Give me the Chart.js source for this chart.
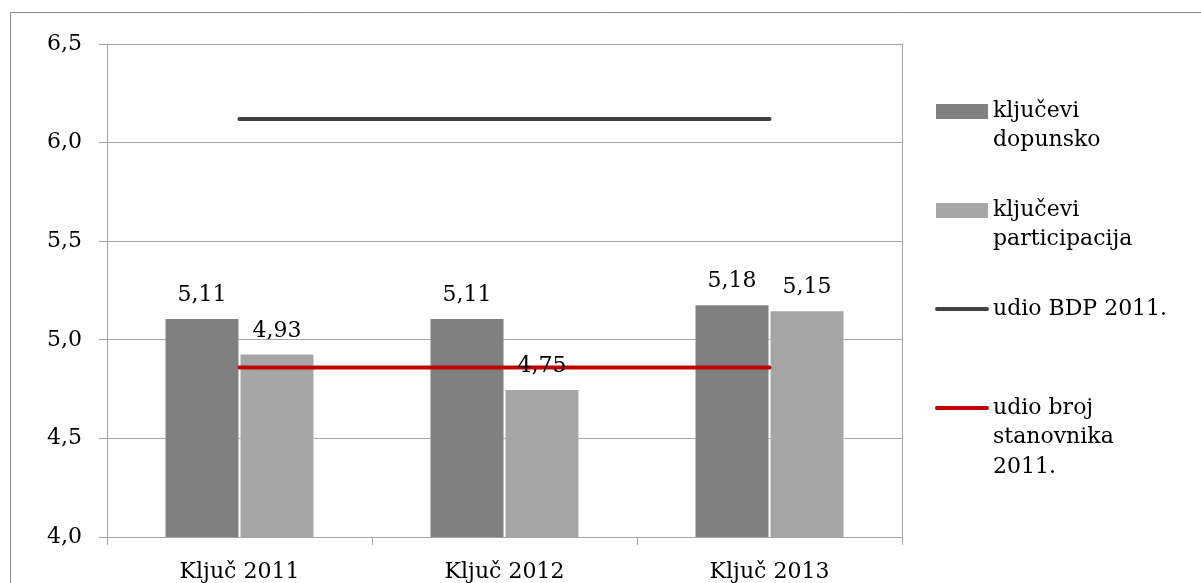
<!DOCTYPE html>
<html>
<head>
<meta charset="utf-8">
<script src="https://cdn.jsdelivr.net/npm/chart.js@4"></script>
<style>
  html, body { margin: 0; padding: 0; background: #fff; }
  #wrap { position: relative; width: 1201px; height: 583px; }
</style>
</head>
<body>
<div id="wrap"><canvas id="chart" width="1201" height="583"></canvas></div>
<script>
const categories = ['Ključ 2011', 'Ključ 2012', 'Ključ 2013'];
const dopunsko = [5.11, 5.11, 5.18];
const participacija = [4.93, 4.75, 5.15];
const udioBdp = [6.12, 6.12, 6.12];
const udioStanovnika = [4.86, 4.86, 4.86];
const yTicks = [4.0, 4.5, 5.0, 5.5, 6.0, 6.5];
const legendText = [
  ['ključevi', 'dopunsko'],
  ['ključevi', 'participacija'],
  ['udio BDP 2011.'],
  ['udio broj', 'stanovnika', '2011.']
];

const FONT = "'DejaVu Serif', serif";
Chart.defaults.font.family = FONT;
Chart.defaults.font.size = 22;
Chart.defaults.color = '#000';

function comma(v, d) {
  return v.toFixed(d).replace('.', ',');
}

// white page + the cut-off frame of the embedded chart
const framePlugin = {
  id: 'frame',
  beforeDraw(chart) {
    const ctx = chart.ctx;
    ctx.save();
    ctx.fillStyle = '#fff';
    ctx.fillRect(0, 0, chart.width, chart.height);
    ctx.strokeStyle = '#8c8c8c';
    ctx.lineWidth = 1;
    ctx.beginPath();
    ctx.moveTo(10.5, chart.height);
    ctx.lineTo(10.5, 12.5);
    ctx.lineTo(chart.width, 12.5);
    ctx.stroke();
    ctx.restore();
  },
  afterDraw(chart) {
    // right border of the plot area
    const a = chart.chartArea;
    const ctx = chart.ctx;
    const x = Math.round(a.right) + 0.5;
    ctx.save();
    ctx.strokeStyle = '#a6a6a6';
    ctx.lineWidth = 1;
    ctx.beginPath();
    ctx.moveTo(x, a.top);
    ctx.lineTo(x, a.bottom + 8);
    ctx.stroke();
    ctx.restore();
  }
};

const barLabels = {
  id: 'barLabels',
  afterDatasetsDraw(chart) {
    const ctx = chart.ctx;
    ctx.save();
    ctx.font = '22px ' + FONT;
    ctx.fillStyle = '#000';
    ctx.textAlign = 'center';
    ctx.textBaseline = 'alphabetic';
    [0, 1].forEach(i => {
      const meta = chart.getDatasetMeta(i);
      const vals = chart.data.datasets[i].data;
      meta.data.forEach((bar, j) => {
        ctx.fillText(comma(vals[j], 2), bar.x, bar.y - 17);
      });
    });
    ctx.restore();
  }
};

const sideLegend = {
  id: 'sideLegend',
  afterDraw(chart) {
    const ctx = chart.ctx;
    const sx = 936, sw = 52, tx = 993;
    ctx.save();
    ctx.font = '22px ' + FONT;
    ctx.textBaseline = 'middle';
    ctx.textAlign = 'left';
    chart.data.datasets.forEach((ds, i) => {
      const cy = 111 + i * 99;
      if (ds.type === 'line') {
        ctx.strokeStyle = ds.borderColor;
        ctx.lineWidth = 4;
        ctx.lineCap = 'round';
        ctx.beginPath();
        ctx.moveTo(sx + 1, cy);
        ctx.lineTo(sx + sw - 1, cy);
        ctx.stroke();
      } else {
        ctx.fillStyle = ds.backgroundColor;
        ctx.fillRect(sx, cy - 7, sw, 15);
      }
      ctx.fillStyle = '#000';
      legendText[i].forEach((t, k) => {
        ctx.fillText(t, tx, cy + k * 29.5);
      });
    });
    ctx.restore();
  }
};

new Chart(document.getElementById('chart'), {
  type: 'bar',
  data: {
    labels: categories,
    datasets: [
      {
        label: 'ključevi dopunsko',
        data: dopunsko,
        backgroundColor: '#808080',
        borderColor: 'rgba(255,255,255,0.35)',
        borderWidth: 1,
        categoryPercentage: 0.566,
        barPercentage: 1,
        order: 1
      },
      {
        label: 'ključevi participacija',
        data: participacija,
        backgroundColor: '#a6a6a6',
        borderColor: 'rgba(255,255,255,0.35)',
        borderWidth: 1,
        categoryPercentage: 0.566,
        barPercentage: 1,
        order: 1
      },
      {
        type: 'line',
        label: 'udio BDP 2011.',
        data: udioBdp,
        borderColor: '#404040',
        borderWidth: 4,
        borderCapStyle: 'round',
        pointRadius: 0,
        fill: false,
        order: 0
      },
      {
        type: 'line',
        label: 'udio broj stanovnika 2011.',
        data: udioStanovnika,
        borderColor: '#c00000',
        borderWidth: 4,
        borderCapStyle: 'round',
        pointRadius: 0,
        fill: false,
        order: 0
      }
    ]
  },
  options: {
    responsive: false,
    animation: false,
    devicePixelRatio: 1,
    layout: { padding: { top: 44, right: 299, left: 0, bottom: 0 } },
    plugins: {
      legend: { display: false },
      tooltip: { enabled: false }
    },
    scales: {
      x: {
        offset: true,
        grid: {
          offset: true,
          drawOnChartArea: false,
          drawTicks: true,
          tickLength: 8,
          color: '#a6a6a6'
        },
        border: { color: '#a6a6a6', width: 1 },
        ticks: { padding: 14, maxRotation: 0 },
        afterFit(s) { s.height = 46; }
      },
      y: {
        min: 4,
        max: 6.5,
        afterBuildTicks(s) { s.ticks = yTicks.map(v => ({ value: v })); },
        grid: {
          color: '#a6a6a6',
          tickLength: 8,
          lineWidth: 1
        },
        border: { color: '#a6a6a6', width: 1 },
        ticks: {
          padding: 17,
          callback: v => comma(v, 1)
        },
        afterFit(s) { s.width = 107; }
      }
    }
  },
  plugins: [framePlugin, barLabels, sideLegend]
});
</script>
</body>
</html>
